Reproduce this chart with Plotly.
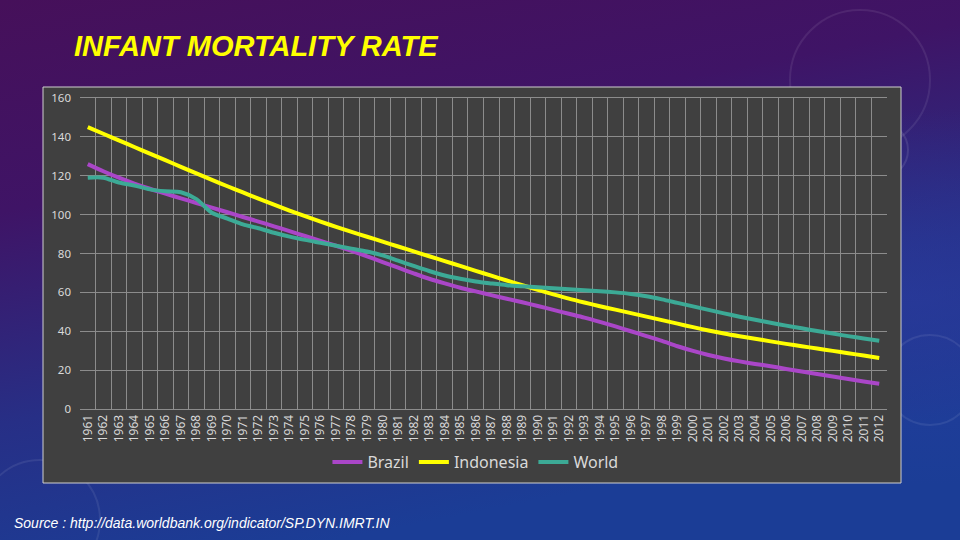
import base64
import plotly.graph_objects as go

years = [str(y) for y in range(1961, 2013)]

brazil = [126, 122.3, 119, 116, 113.3, 110.8, 108.4, 106, 103.6, 101.2,
          98.8, 96.4, 94, 91.5, 89, 86.5, 84, 81.3, 78.5, 75.6,
          72.7, 69.8, 67, 64.6, 62.4, 60.5, 58.6, 56.7, 54.9, 53,
          51, 49, 47, 44.8, 42.5, 40, 37.5, 35, 32.3, 29.9,
          27.8, 26, 24.5, 23.2, 22, 20.6, 19.3, 18, 16.7, 15.4,
          14.2, 13]

indonesia = [145, 141.6, 138.2, 134.8, 131.4, 128, 124.6, 121.2, 117.9, 114.6,
             111.4, 108.2, 105.1, 102.1, 99.2, 96.4, 93.7, 91.1, 88.6, 86.1,
             83.6, 81.1, 78.6, 76.1, 73.6, 71.1, 68.6, 66.1, 63.7, 61.3,
             59, 56.8, 54.8, 52.9, 51.1, 49.3, 47.5, 45.7, 43.9, 42.1,
             40.4, 38.8, 37.4, 36.1, 34.8, 33.5, 32.3, 31.1, 29.9, 28.7,
             27.5, 26.2]

world = [119, 119, 116.5, 115, 113, 112, 111.5, 108, 101, 98,
         95, 93, 90.7, 88.7, 87, 85.5, 84, 82.5, 81, 79,
         76.3, 73.6, 71, 68.7, 67, 65.6, 64.6, 63.7, 63.1, 62.6,
         62.1, 61.6, 61.1, 60.6, 60, 59.2, 58, 56.4, 54.6, 52.8,
         51, 49.2, 47.5, 45.9, 44.4, 42.9, 41.5, 40.1, 38.8, 37.5,
         36.3, 35.1]

series = [("Brazil", brazil, "#aa46c8"),
          ("Indonesia", indonesia, "#ffff00"),
          ("World", world, "#3caa96")]

fig = go.Figure()
for name, vals, col in series:
    fig.add_trace(go.Scatter(x=years, y=vals, name=name, mode="lines",
                             line=dict(color=col, width=4, shape="spline", smoothing=0.8)))

# plot area in pixels
L, R, T, B = 80, 887, 98, 409
PW, PH = R - L, B - T

def px_x(x):
    return (x - L) / PW

def px_y(y):
    return (B - y) / PH

svg = """<svg xmlns='http://www.w3.org/2000/svg' width='960' height='540' viewBox='0 0 960 540' preserveAspectRatio='none'>
<defs><linearGradient id='g' x1='0' y1='0' x2='0.35' y2='1'>
<stop offset='0' stop-color='#46105a'/>
<stop offset='0.35' stop-color='#3f1466'/>
<stop offset='0.7' stop-color='#272f86'/>
<stop offset='1' stop-color='#1b3d96'/>
</linearGradient>
<radialGradient id='r' cx='0.95' cy='0.55' r='0.35'>
<stop offset='0' stop-color='#2a3ca0' stop-opacity='0.6'/>
<stop offset='1' stop-color='#2a3ca0' stop-opacity='0'/>
</radialGradient></defs>
<rect width='960' height='540' fill='url(#g)'/>
<rect width='960' height='540' fill='url(#r)'/>
<circle cx='860' cy='80' r='70' fill='none' stroke='#ffffff' stroke-opacity='0.08' stroke-width='2'/>
<circle cx='880' cy='150' r='28' fill='none' stroke='#ffffff' stroke-opacity='0.1' stroke-width='2'/>
<circle cx='930' cy='380' r='45' fill='none' stroke='#ffffff' stroke-opacity='0.08' stroke-width='2'/>
<circle cx='40' cy='520' r='60' fill='none' stroke='#ffffff' stroke-opacity='0.08' stroke-width='2'/>
</svg>"""
uri = "data:image/svg+xml;base64," + base64.b64encode(svg.encode()).decode()

fig.add_layout_image(dict(source=uri, xref="paper", yref="paper",
                          x=px_x(0), y=px_y(0), sizex=960 / PW, sizey=540 / PH,
                          xanchor="left", yanchor="top", sizing="stretch", layer="below"))

fig.add_shape(type="rect", xref="paper", yref="paper",
              x0=px_x(43), x1=px_x(901), y0=px_y(483), y1=px_y(87),
              fillcolor="#404040", line=dict(color="#d0d0d0", width=1), layer="below")

fig.add_annotation(text="<b><i>INFANT MORTALITY RATE</i></b>", xref="paper", yref="paper",
                   x=px_x(72), y=px_y(46), xanchor="left", yanchor="middle", showarrow=False,
                   font=dict(family="Liberation Sans Narrow, Arial Narrow, sans-serif", size=29, color="#ffff00"))

fig.add_annotation(text="<i>Source : http://data.worldbank.org/indicator/SP.DYN.IMRT.IN</i>",
                   xref="paper", yref="paper", x=px_x(12), y=px_y(523),
                   xanchor="left", yanchor="middle", showarrow=False,
                   font=dict(family="Liberation Sans, sans-serif", size=14, color="#ffffff"))

fig.update_layout(
    width=960, height=540,
    margin=dict(l=L, r=960 - R, t=T, b=540 - B),
    paper_bgcolor="#3a1560",
    plot_bgcolor="rgba(0,0,0,0)",
    font=dict(family="Noto Sans, sans-serif", color="#d9d9d9"),
    showlegend=True,
    legend=dict(orientation="h", x=0.49, y=px_y(462), xanchor="center", yanchor="middle",
                font=dict(size=16, color="#d9d9d9"), bgcolor="rgba(0,0,0,0)",
                itemwidth=30, tracegroupgap=0),
)
fig.update_xaxes(type="category", tickson="boundaries", showgrid=True, gridcolor="#8c8c8c",
                 gridwidth=1, tickangle=-90, tickfont=dict(size=12, color="#d9d9d9"),
                 ticks="", showline=True, linecolor="#8c8c8c", mirror=True, zeroline=False,
                 range=[-0.5, len(years) - 0.5])
fig.update_yaxes(range=[0, 160], dtick=20, showgrid=True, gridcolor="#8c8c8c", gridwidth=1,
                 tickfont=dict(size=11.5, color="#d9d9d9"), ticks="", zeroline=False,
                 showline=False, ticklabelstandoff=8)

fig.write_html("out.html", config={"displayModeBar": False},
               post_script="document.body.style.margin='0';document.body.style.overflow='hidden';")
